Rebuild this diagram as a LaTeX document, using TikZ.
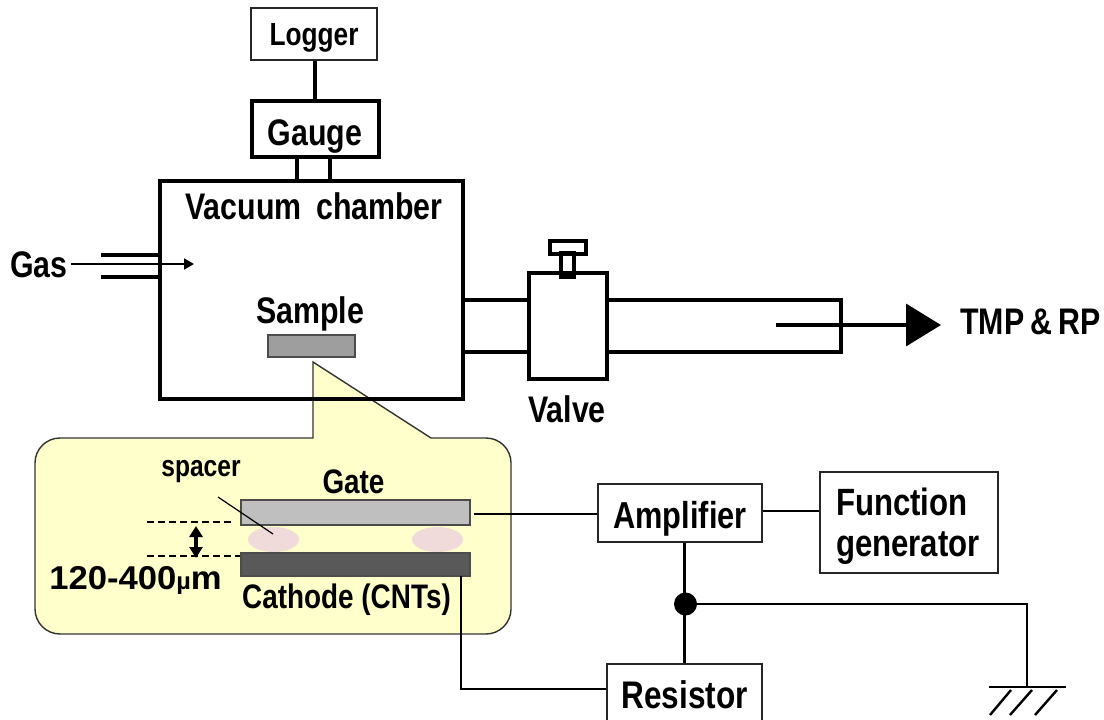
\documentclass[tikz,border=0pt]{standalone}
\usepackage{fontspec}
\setmainfont{Liberation Sans}[FakeStretch=0.82]
\newfontfamily\widefont{Liberation Sans}[FakeStretch=1.05]
\usetikzlibrary{arrows.meta,shapes.geometric}
\definecolor{calloutfill}{HTML}{FFFFCC}
\definecolor{padfill}{HTML}{F0DADA}
\newcommand{\droptext}[2]{\raisebox{-#1pt}[0pt][0pt]{#2}}
\tikzset{
  thinbox/.style={draw=black!85, line width=1.6, fill=white, inner sep=0pt, align=left},
  heavybox/.style={draw=black, line width=4, inner sep=0pt},
  wire/.style={draw=black, line width=2.8},
  pipe/.style={draw=black, line width=4},
  gapline/.style={line width=1.2, dash pattern=on 7 off 4},
  plate/.style={draw=black!70, line width=1.4, inner sep=0pt},
  spacerpad/.style={ellipse, fill=padfill, minimum width=51, minimum height=25, inner sep=0pt},
  biglabel/.style={font=\fontsize{37}{44}\selectfont\bfseries, inner sep=0pt},
  midlabel/.style={font=\fontsize{32}{38}\selectfont\bfseries, inner sep=0pt}
}
\begin{document}
\begin{tikzpicture}[x=1pt,y=-1pt]
  \useasboundingbox (0,0) rectangle (1104,720);
  % enlarged view
  \draw[draw=black!80,line width=1.4,fill=calloutfill] (313,362) -- (431,438) [rounded corners=25] -- (511,438) -- (511,634) -- (35,634) -- (35,438) [sharp corners] -- (313,438) -- cycle;
  \node[spacerpad] (padleft) at (273.5,539.5) {};
  \node[spacerpad] (padright) at (437.5,539.5) {};
  \node[plate,fill=black!25,minimum width=229,minimum height=25] (gate) at (355.5,512.5) {};
  \node[plate,fill=black!65,minimum width=229,minimum height=23] (cathode) at (355.5,564.5) {};
  \node[font=\fontsize{34}{40}\selectfont\bfseries,inner sep=0pt] (gatetext) at (353.5,482) {Gate};
  \node[font=\fontsize{30}{34}\selectfont\bfseries,inner sep=0pt] (spacertext) at (201,472) {spacer};
  \node[font=\fontsize{34}{40}\selectfont\bfseries,inner sep=0pt] (cathodetext) at (346.5,600) {Cathode (CNTs)};
  \node[font=\fontsize{33}{38}\selectfont\bfseries\widefont,inner sep=0pt] (gaptext) at (135.5,580) {120-400{\fontsize{24}{28}\selectfont µ}m};
  \coordinate (leaderstart) at (218,497);
  \coordinate (leaderend) at (273,534);
  \draw[line width=1.2] (leaderstart) -- (leaderend);
  \draw[gapline] (147,522) -- (233,522);
  \draw[gapline] (147,556) -- (gate.west |- 0,556);
  \draw[line width=4,{Triangle[length=11,width=13]}-{Triangle[length=11,width=13]}] (196,526) -- (196,558);
  % gauge and logger
  \node[thinbox,minimum width=126,minimum height=52,midlabel] (logger) at (314,34) {\droptext{12}{Logger}};
  \node[heavybox,minimum width=127,minimum height=56,biglabel] (gauge) at (315,129) {\droptext{16}{Gauge}};
  \draw[line width=3.6] (gauge.north |- logger.south) -- (gauge.north);
  % chamber
  \node[heavybox,minimum width=303,minimum height=218] (chamber) at (311,290) {};
  \draw[pipe] (297,157) -- (297,181);
  \draw[pipe] (330,157) -- (330,181);
  \node[biglabel] (chambertext) at (314,206) {Vacuum\, chamber};
  \node[biglabel] (gas) at (39,265) {Gas};
  \coordinate (gasstart) at (71,264);
  \coordinate (gasend) at (194,264);
  \draw[pipe] (101,255) -- (chamber.west |- 0,255);
  \draw[pipe] (101,277) -- (chamber.west |- 0,277);
  \draw[line width=2,-{Triangle[length=10,width=11]}] (gasstart) -- (gasend);
  \node[biglabel] (sampletext) at (310,314) {Sample};
  \node[plate,fill=black!38,minimum width=87,minimum height=22] (sample) at (311.5,346) {};
  % valve and pump line
  \draw[pipe] (chamber.east |- 0,300) -- (529,300);
  \draw[pipe] (chamber.east |- 0,352) -- (529,352);
  \draw[pipe] (607,300) -- (841,300) -- (841,352) -- (607,352);
  \node[heavybox,minimum width=78,minimum height=106] (valve) at (568,326) {};
  \node[draw=black,line width=4,minimum width=13,minimum height=24,inner sep=0pt] (stem) at (567,265) {};
  \node[heavybox,minimum width=36,minimum height=13] (handle) at (568,247.5) {};
  \node[biglabel] (valvetext) at (567,409) {Valve};
  \coordinate (pumpstart) at (776,325);
  \node[biglabel,anchor=west] (pump) at (960,322) {TMP\,\&\,RP};
  \draw[line width=3.6,-{Triangle[length=35,width=42]}] (pumpstart) -- (941,325);
  % electrical part
  \node[thinbox,minimum width=164,minimum height=58,font=\fontsize{37.5}{44}\selectfont\bfseries] (amplifier) at (680,513) {\droptext{15}{Amplifier}};
  \node[thinbox,minimum width=178,minimum height=101] (generator) at (909,522.5) {};
  \node[font=\fontsize{38}{41}\selectfont\bfseries,inner sep=0pt,align=left] (generatortext) at (908,526) {Function\\generator};
  \node[thinbox,minimum width=155,minimum height=58,font=\fontsize{38.5}{44}\selectfont\bfseries] (resistor) at (684.5,693) {\droptext{15}{Resistor}};
  \node[circle,fill=black,minimum size=23,inner sep=0pt] (junction) at (685.5,604) {};
  \coordinate (earth) at (1027,687);
  \draw[wire] (gate.east |- 0,514) ++(3,0) -- (amplifier.west |- 0,514);
  \draw[wire] (amplifier.east |- 0,511) -- (generator.west |- 0,511);
  \draw[wire,line width=3] (684,0 |- amplifier.south) -- (684,0 |- junction.center);
  \draw[wire,line width=3] (684,0 |- junction.center) -- (684,0 |- resistor.north);
  \draw[wire] (junction.center) -| (earth);
  \draw[wire] (461,576) |- (resistor.west |- 0,689);
  \draw[wire] (989,687) -- (1066,687);
  \foreach \xtop/\xbot in {1011/990, 1032/1010, 1057/1035}
    \draw[line width=2.4] (\xtop,690) -- (\xbot,715);
\end{tikzpicture}
\end{document}
